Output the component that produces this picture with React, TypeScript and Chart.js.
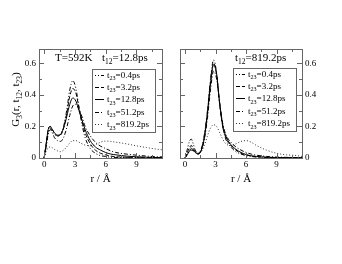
import React, { useEffect, useRef } from "react";
import { Chart, registerables } from "chart.js";

Chart.register(...registerables);

// ---------- data ----------
const rValues = [0, 0.2, 0.4, 0.6, 0.8, 1.0, 1.3, 1.6, 1.9, 2.2, 2.5, 2.8, 3.1, 3.4, 3.7, 4.0, 4.5, 5.0, 5.5, 6.0, 6.5, 7.0, 8.0, 9.0, 10.0, 11.0, 11.5];

const t23Labels = ["0.4", "3.2", "12.8", "51.2", "819.2"];

// left panel: t12 = 12.8 ps
const left_t23_0_4 = [0, 0.08, 0.16, 0.19, 0.17, 0.15, 0.14, 0.15, 0.2, 0.3, 0.43, 0.49, 0.44, 0.32, 0.21, 0.13, 0.06, 0.03, 0.015, 0.01, 0.005, 0.003, 0.002, 0.001, 0.001, 0.001, 0.001];
const left_t23_3_2 = [0, 0.09, 0.18, 0.2, 0.18, 0.16, 0.14, 0.145, 0.19, 0.28, 0.39, 0.44, 0.41, 0.32, 0.23, 0.16, 0.09, 0.05, 0.03, 0.02, 0.012, 0.008, 0.005, 0.003, 0.002, 0.002, 0.002];
const left_t23_12_8 = [0, 0.09, 0.18, 0.2, 0.18, 0.16, 0.145, 0.15, 0.19, 0.26, 0.34, 0.38, 0.36, 0.3, 0.24, 0.18, 0.11, 0.07, 0.05, 0.035, 0.025, 0.02, 0.012, 0.008, 0.005, 0.003, 0.003];
const left_t23_51_2 = [0, 0.07, 0.15, 0.18, 0.16, 0.13, 0.11, 0.105, 0.13, 0.19, 0.27, 0.33, 0.34, 0.31, 0.26, 0.2, 0.14, 0.1, 0.075, 0.06, 0.045, 0.035, 0.025, 0.018, 0.012, 0.008, 0.007];
const left_t23_819_2 = [0, 0.04, 0.065, 0.07, 0.065, 0.055, 0.045, 0.04, 0.05, 0.07, 0.095, 0.11, 0.11, 0.1, 0.09, 0.082, 0.078, 0.085, 0.1, 0.107, 0.105, 0.1, 0.09, 0.077, 0.066, 0.056, 0.052];

// right panel: t12 = 819.2 ps
const right_t23_0_4 = [0, 0.05, 0.1, 0.12, 0.09, 0.05, 0.03, 0.06, 0.15, 0.3, 0.5, 0.62, 0.54, 0.34, 0.2, 0.12, 0.07, 0.04, 0.025, 0.015, 0.01, 0.006, 0.003, 0.002, 0.001, 0.001, 0.001];
const right_t23_3_2 = [0, 0.03, 0.06, 0.08, 0.06, 0.04, 0.025, 0.05, 0.14, 0.29, 0.48, 0.6, 0.53, 0.34, 0.2, 0.13, 0.08, 0.05, 0.03, 0.02, 0.012, 0.008, 0.004, 0.002, 0.001, 0.001, 0.001];
const right_t23_12_8 = [0, 0.02, 0.04, 0.06, 0.05, 0.035, 0.025, 0.05, 0.13, 0.28, 0.47, 0.59, 0.53, 0.35, 0.21, 0.14, 0.085, 0.055, 0.035, 0.022, 0.014, 0.01, 0.005, 0.003, 0.002, 0.001, 0.001];
const right_t23_51_2 = [0, 0.02, 0.04, 0.05, 0.045, 0.035, 0.03, 0.05, 0.12, 0.25, 0.43, 0.55, 0.5, 0.35, 0.22, 0.15, 0.1, 0.07, 0.05, 0.035, 0.025, 0.018, 0.01, 0.006, 0.004, 0.003, 0.003];
const right_t23_819_2 = [0, 0.03, 0.06, 0.07, 0.06, 0.04, 0.03, 0.04, 0.08, 0.14, 0.19, 0.21, 0.2, 0.16, 0.12, 0.09, 0.08, 0.09, 0.105, 0.11, 0.1, 0.08, 0.05, 0.03, 0.02, 0.015, 0.01];

const xTicks = [0, 3, 6, 9];
const xMinorTicks = [0, 1.5, 3, 4.5, 6, 7.5, 9, 10.5];
const yTicks = [0, 0.2, 0.4, 0.6];
const yTickLabels = ["0", "0.2", "0.4", "0.6"];
const yMinorTicks = [0, 0.1, 0.2, 0.3, 0.4, 0.5, 0.6];

const X_MIN = -0.5;
const X_MAX = 11.5;
const Y_MIN = 0;
const Y_MAX = 0.69;

const FONT = "'Liberation Serif', 'Times New Roman', serif";
const FRAME = "#666";

const dashes = [[1, 2, 1, 2, 4, 2], [4, 2], [], [4, 2, 1, 2], [1, 2]];

// ---------- rich text helper (supports _{sub}) ----------
function parseRich(s: string) {
  const parts: { t: string; sub: boolean }[] = [];
  const re = /_\{([^}]*)\}/g;
  let last = 0;
  let m;
  while ((m = re.exec(s))) {
    if (m.index > last) parts.push({ t: s.slice(last, m.index), sub: false });
    parts.push({ t: m[1], sub: true });
    last = m.index + m[0].length;
  }
  if (last < s.length) parts.push({ t: s.slice(last), sub: false });
  return parts;
}

function richWidth(ctx: CanvasRenderingContext2D, s: string, size: number) {
  let w = 0;
  for (const p of parseRich(s)) {
    ctx.font = `${p.sub ? size * 0.68 : size}px ${FONT}`;
    w += ctx.measureText(p.t).width;
  }
  return w;
}

function drawRich(ctx: CanvasRenderingContext2D, s: string, x: number, y: number, size: number, align: "left" | "center" = "left") {
  let cx = align === "center" ? x - richWidth(ctx, s, size) / 2 : x;
  ctx.textAlign = "left";
  ctx.textBaseline = "alphabetic";
  for (const p of parseRich(s)) {
    const fs = p.sub ? size * 0.68 : size;
    ctx.font = `${fs}px ${FONT}`;
    ctx.fillText(p.t, cx, y + (p.sub ? size * 0.28 : 0));
    cx += ctx.measureText(p.t).width;
  }
}

// ---------- panel plugin ----------
const framePlugin = {
  id: "framePlugin",
  afterDatasetsDraw(chart: any, _args: any, opts: any) {
    const ctx: CanvasRenderingContext2D = chart.ctx;
    const { left, right, top, bottom } = chart.chartArea;
    const xs = chart.scales.x;
    const ys = chart.scales.y;
    ctx.save();
    // frame
    ctx.strokeStyle = FRAME;
    ctx.lineWidth = 1;
    ctx.strokeRect(Math.round(left) + 0.5, Math.round(top) + 0.5, Math.round(right - left), Math.round(bottom - top));
    // ticks
    ctx.beginPath();
    for (const v of xMinorTicks) {
      const px = Math.round(xs.getPixelForValue(v)) + 0.5;
      const len = xTicks.includes(v) ? 5 : 3;
      ctx.moveTo(px, bottom);
      ctx.lineTo(px, bottom - len);
      ctx.moveTo(px, top);
      ctx.lineTo(px, top + len);
    }
    for (const v of yMinorTicks) {
      const py = Math.round(ys.getPixelForValue(v)) + 0.5;
      const len = yTicks.includes(v) ? 5 : 3;
      ctx.moveTo(left, py);
      ctx.lineTo(left + len, py);
      ctx.moveTo(right, py);
      ctx.lineTo(right - len, py);
    }
    ctx.stroke();

    // annotations
    ctx.fillStyle = "#000";
    for (const a of opts.annotations || []) {
      drawRich(ctx, a.text, a.x, a.y, 11);
    }

    // legend
    const L = opts.legend;
    if (L) {
      ctx.fillStyle = "#fff";
      ctx.fillRect(L.x, L.y, L.w, L.h);
      ctx.strokeStyle = FRAME;
      ctx.strokeRect(L.x + 0.5, L.y + 0.5, L.w, L.h);
      chart.data.datasets.forEach((ds: any, i: number) => {
        const yy = L.y + 5.5 + i * 12.4;
        ctx.strokeStyle = ds.borderColor;
        ctx.lineWidth = ds.borderWidth;
        ctx.setLineDash(ds.borderDash || []);
        ctx.beginPath();
        ctx.moveTo(L.x + 3, Math.round(yy) + 0.5);
        ctx.lineTo(L.x + 12, Math.round(yy) + 0.5);
        ctx.stroke();
        ctx.setLineDash([]);
        ctx.fillStyle = "#000";
        drawRich(ctx, ds.label, L.x + 15, yy + 3, 9);
      });
    }

    // axis title
    ctx.fillStyle = "#000";
    drawRich(ctx, "r / Å", (left + right) / 2, 182, 11, "center");
    if (opts.yTitle) {
      ctx.save();
      ctx.translate(19, (top + bottom) / 2 - 4);
      ctx.rotate(-Math.PI / 2);
      drawRich(ctx, opts.yTitle, 0, 0, 11, "center");
      ctx.restore();
    }
    ctx.restore();
  },
};

function makeDatasets(series: number[][]) {
  return series.map((vals, i) => ({
    label: `t_{23}=${t23Labels[i]}ps`,
    data: rValues.map((r, j) => ({ x: r, y: vals[j] })),
    borderColor: i === 4 ? "#333" : "#000",
    borderWidth: 1,
    borderDash: dashes[i],
    pointRadius: 0,
    fill: false,
    cubicInterpolationMode: "monotone",
  }));
}

function Panel({ side }: { side: "left" | "right" }) {
  const ref = useRef<HTMLCanvasElement>(null);
  useEffect(() => {
    const isLeft = side === "left";
    const series = isLeft
      ? [left_t23_0_4, left_t23_3_2, left_t23_12_8, left_t23_51_2, left_t23_819_2]
      : [right_t23_0_4, right_t23_3_2, right_t23_12_8, right_t23_51_2, right_t23_819_2];
    const chart = new Chart(ref.current as HTMLCanvasElement, {
      type: "line",
      data: { datasets: makeDatasets(series) as any },
      plugins: [framePlugin],
      options: {
        animation: false,
        responsive: false,
        devicePixelRatio: 1,
        layout: { padding: isLeft ? { top: 49, right: 9, left: 0, bottom: 0 } : { top: 49, left: 9, right: 0, bottom: 0 } },
        plugins: {
          legend: { display: false },
          tooltip: { enabled: false },
          framePlugin: {
            yTitle: isLeft ? "G_{3}(r, t_{12}, t_{23})" : null,
            annotations: isLeft
              ? [
                  { text: "T=592K", x: 55, y: 61 },
                  { text: "t_{12}=12.8ps", x: 102, y: 61 },
                ]
              : [{ text: "t_{12}=819.2ps", x: 64, y: 61 }],
            legend: isLeft ? { x: 92, y: 69, w: 63, h: 63 } : { x: 62, y: 68, w: 63, h: 63 },
          },
        } as any,
        scales: {
          x: {
            type: "linear",
            min: X_MIN,
            max: X_MAX,
            afterBuildTicks: (s: any) => {
              s.ticks = xTicks.map((v) => ({ value: v }));
            },
            afterFit: (s: any) => {
              s.height = 264 - 158;
            },
            grid: { display: false, drawTicks: false },
            border: { display: false },
            ticks: { padding: 1, color: "#000", font: { family: FONT, size: 9 }, maxRotation: 0, autoSkip: false },
          },
          y: {
            type: "linear",
            position: isLeft ? "left" : "right",
            min: Y_MIN,
            max: Y_MAX,
            afterBuildTicks: (s: any) => {
              s.ticks = yTicks.map((v) => ({ value: v }));
            },
            afterFit: (s: any) => {
              s.width = isLeft ? 39 : 40;
            },
            grid: { display: false, drawTicks: false },
            border: { display: false },
            ticks: {
              padding: 3,
              color: "#000",
              font: { family: FONT, size: 9 },
              callback: (v: any) => {
                const idx = yTicks.indexOf(Number(v));
                return idx >= 0 ? yTickLabels[idx] : "";
              },
            },
          },
        },
      },
    });
    return () => chart.destroy();
  }, [side]);
  return <canvas ref={ref} width={171} height={264} style={{ display: "block", width: 171, height: 264 }} />;
}

export default function App() {
  return (
    <div style={{ position: "absolute", left: 0, top: 0, width: 342, height: 264, display: "flex", background: "#fff" }}>
      <Panel side="left" />
      <Panel side="right" />
    </div>
  );
}
